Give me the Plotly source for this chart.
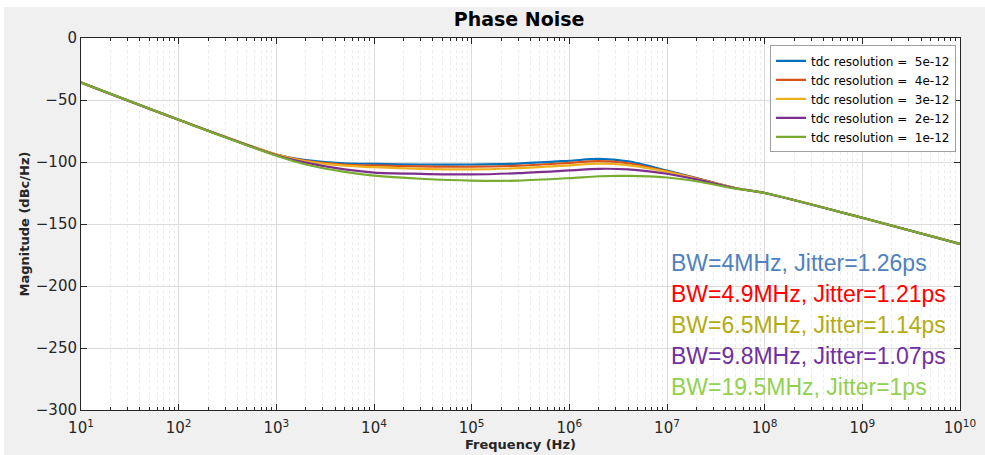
import plotly.graph_objects as go

# Offset frequency (Hz) and phase-noise magnitude (dBc/Hz) for each TDC resolution
freq = [1e1, 1e2, 1e3, 2e3, 5e3, 1e4, 3e4, 1e5, 3e5, 1e6, 2e6, 4e6, 1e7, 2e7, 5e7, 1e8, 1e9, 1e10]

pn_5e12 = [-36, -66, -94, -98.5, -101, -101.5, -102, -102, -101.3, -99, -97.5, -99.5, -107, -113, -121, -125, -145, -166]
pn_4e12 = [-36, -66, -94, -99, -102, -102.8, -103.5, -103.8, -103, -100.7, -99.3, -101, -107.5, -113.2, -121, -125, -145, -166]
pn_3e12 = [-36, -66, -94, -99.5, -103, -104.2, -105.5, -106, -105, -102.7, -101.3, -102.5, -108, -113.5, -121, -125, -145, -166]
pn_2e12 = [-36, -66, -94.5, -100.5, -106, -108.5, -109.5, -110, -109, -106.8, -105.5, -106, -109.5, -114, -121.2, -125, -145, -166]
pn_1e12 = [-36, -66, -95, -102, -108, -111, -113.5, -115, -115, -113, -111.5, -111.2, -112.5, -115.5, -121.5, -125, -145, -166]

series_names = [
    "tdc resolution =\u00a0\u00a05e-12",
    "tdc resolution =\u00a0\u00a04e-12",
    "tdc resolution =\u00a0\u00a03e-12",
    "tdc resolution =\u00a0\u00a02e-12",
    "tdc resolution =\u00a0\u00a01e-12",
]
series_values = [pn_5e12, pn_4e12, pn_3e12, pn_2e12, pn_1e12]
series_colors = ["#0072BD", "#D95319", "#EDB120", "#7E2F8E", "#77AC30"]

# Loop bandwidth / integrated jitter summary lines
summary_text = [
    "BW=4MHz, Jitter=1.26ps",
    "BW=4.9MHz, Jitter=1.21ps",
    "BW=6.5MHz, Jitter=1.14ps",
    "BW=9.8MHz, Jitter=1.07ps",
    "BW=19.5MHz, Jitter=1ps",
]
summary_colors = ["#4F81BD", "#FF0000", "#B3AC12", "#7030A0", "#92D050"]

x_tick_vals = [10 ** k for k in range(1, 11)]
x_tick_text = [f"10<sup>{k}</sup>" for k in range(1, 11)]
y_tick_vals = [0, -50, -100, -150, -200, -250, -300]

fig = go.Figure()

for name, vals, col in zip(series_names, series_values, series_colors):
    fig.add_trace(go.Scatter(
        x=freq, y=vals, mode="lines", name=name,
        line=dict(color=col, width=2.2, shape="spline", smoothing=0.8),
    ))

ann = []
y_pos = [0.396, 0.3125, 0.229, 0.146, 0.0625]
for txt, col, yp in zip(summary_text, summary_colors, y_pos):
    ann.append(dict(
        text=txt, xref="paper", yref="paper", x=0.669, y=yp,
        xanchor="left", yanchor="middle", showarrow=False,
        font=dict(family="Liberation Sans, Arial, sans-serif", size=23, color=col),
    ))

axis_font = dict(family="DejaVu Sans, sans-serif", size=15, color="#262626")

# thin white frame strips along the top and left edges of the grey window
frame_top = dict(type="rect", xref="paper", yref="paper",
                 x0=-0.1, x1=1.04, y0=1.083, y1=1.11,
                 fillcolor="white", line=dict(width=0), layer="above")
frame_left = dict(type="rect", xref="paper", yref="paper",
                  x0=-0.1, x1=-0.0876, y0=-0.13, y1=1.11,
                  fillcolor="white", line=dict(width=0), layer="above")

fig.update_layout(
    width=985, height=455,
    margin=dict(l=81, r=25, t=38, b=45),
    paper_bgcolor="#F0F0F0",
    plot_bgcolor="white",
    shapes=[frame_top, frame_left],
    title=dict(
        text="<b>Phase Noise</b>", x=0.527, xanchor="center", y=0.958, yanchor="middle",
        font=dict(family="DejaVu Sans, sans-serif", size=19, color="#000000"),
    ),
    showlegend=True,
    legend=dict(
        x=0.9955, y=0.98, xanchor="right", yanchor="top",
        bgcolor="white", bordercolor="#A0A0A0", borderwidth=1,
        font=dict(family="DejaVu Sans, sans-serif", size=12, color="#000000"),
        itemwidth=30, tracegroupgap=0,
    ),
    annotations=ann,
    xaxis=dict(
        type="log", range=[1, 10], automargin=False,
        tickvals=x_tick_vals, ticktext=x_tick_text,
        tickfont=axis_font, ticklabelstandoff=4,
        title=dict(text="<b>Frequency (Hz)</b>", standoff=0,
                   font=dict(family="DejaVu Sans, sans-serif", size=13, color="#262626")),
        showline=True, linecolor="#262626", linewidth=1, mirror="ticks",
        ticks="inside", ticklen=6, tickcolor="#262626",
        showgrid=True, gridcolor="#DCDCDC", gridwidth=1,
        minor=dict(dtick="D1", ticks="inside", ticklen=3, tickcolor="#262626",
                   showgrid=True, gridcolor="#EBEBEB", griddash="dot"),
        zeroline=False,
    ),
    yaxis=dict(
        range=[-300, 0], automargin=False,
        tickvals=y_tick_vals,
        tickfont=axis_font,
        title=dict(text="<b>Magnitude (dBc/Hz)</b>", standoff=3,
                   font=dict(family="DejaVu Sans, sans-serif", size=13, color="#262626")),
        showline=True, linecolor="#262626", linewidth=1, mirror="ticks",
        ticks="inside", ticklen=6, tickcolor="#262626",
        showgrid=True, gridcolor="#DCDCDC", gridwidth=1,
        zeroline=False,
    ),
)

fig.write_html("out.html")
